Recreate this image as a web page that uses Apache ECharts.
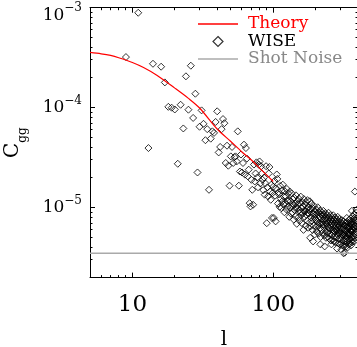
<!DOCTYPE html>
<html><head><meta charset="utf-8">
<script src="https://cdn.jsdelivr.net/npm/echarts@6/dist/echarts.min.js"></script>
<style>html,body{margin:0;padding:0;background:#fff}#c{width:357px;height:347px}</style>
</head><body><div id="c"></div><script>
// Multipole l of each WISE point
const ell = [9,11,13,14,16,17,18,19,20,21,22,23,24,25,26,27,28,29,30,31,32,33,34,35,36,37,38,39,40,
41,42,43,44,45,46,47,48,49,50,51,52,53,54,55,56,57,58,59,60,61,62,63,64,65,66,67,68,69,70,
71,72,73,74,75,76,77,78,79,80,81,82,83,84,85,86,87,88,89,90,91,92,93,94,95,96,97,98,99,
100,101,102,103,104,105,106,107,108,109,110,111,112,113,114,115,116,117,118,119,
120,121,122,123,124,125,126,127,128,129,130,131,132,133,134,135,136,137,138,139,
140,141,142,143,144,145,146,147,148,149,150,151,152,153,154,155,156,157,158,159,
160,161,162,163,164,165,166,167,168,169,170,171,172,173,174,175,176,177,178,179,
180,181,182,183,184,185,186,187,188,189,190,191,192,193,194,195,196,197,198,199,
200,201,202,203,204,205,206,207,208,209,210,211,212,213,214,215,216,217,218,219,
220,221,222,223,224,225,226,227,228,229,230,231,232,233,234,235,236,237,238,239,
240,241,242,243,244,245,246,247,248,249,250,251,252,253,254,255,256,257,258,259,
260,261,262,263,264,265,266,267,268,269,270,271,272,273,274,275,276,277,278,279,
280,281,282,283,284,285,286,287,288,289,290,291,292,293,294,295,296,297,298,299,
300,301,302,303,304,305,306,307,308,309,310,311,312,313,314,315,316,317,318,319,
320,321,322,323,324,325,326,327,328,329,330,331,332,333,334,335,336,337,338,339,
340,341,342,343,344,345,346,347,348,349,350,351,352,353,354,355,356,357,358,359,
360,361,362,363,364,365,366,367,368,369,370,371,372,373,374,375,376,377,378,379,
380,381,382,383,384,385,386,387,388,389,390];
// WISE C_gg, in units of 1e-6
const cggMicro = [321,890,39.5,275,257,179,102,100,96,27.5,107,62,206,95.5,263,79,138,22.5,64.5,94,69,47.3,61,15.1,49,58,56,72,92,
35.7,40.5,61,77,70,28,41.7,26.3,16.6,32.6,40.5,28,32,32.6,29,58,16.6,23,34,22.5,28,42.7,21.4,39.5,31,20.6,24,11.1,10.3,19,
15.1,10.7,27,18.3,22,28.4,20,16,26.9,29,17.5,25.9,22,19,15,20,13.5,17.5,26,7.0,16,13,22,25.5,14.5,12,17,7.9,14,
16.2,7.9,18.5,13.2,7.3,15.6,21.5,19.4,11.0,14.3,13.6,10.2,16.5,12.4,9.9,14.8,11.6,17.0,10.8,12.9,
9.0,14.6,11.1,13.0,9.6,15.4,11.7,10.2,13.9,11.8,8.1,14.5,10.0,11.6,8.7,13.9,10.4,9.0,12.2,10.7,
7.6,12.6,9.5,11.0,8.2,13.3,10.1,6.9,11.6,9.8,10.9,8.0,12.3,9.4,7.4,11.1,9.0,12.9,8.4,9.9,
7.0,11.3,8.8,10.3,6.0,12.2,9.3,8.1,10.7,9.2,6.6,11.4,8.5,9.8,7.4,11.9,8.9,6.3,10.2,8.7,
9.5,7.1,11.6,5.0,6.5,9.8,8.0,10.9,7.4,8.8,6.0,9.9,4.6,8.6,6.6,10.4,7.9,5.4,9.1,7.7,
8.5,6.4,9.6,7.4,5.8,8.8,7.2,10.1,6.7,7.9,5.5,9.0,7.0,8.2,6.2,9.4,4.3,5.1,8.6,6.9,
7.8,6.0,8.9,7.1,5.6,8.3,6.8,9.3,6.4,7.5,5.3,8.5,4.1,7.8,5.9,8.8,7.0,5.0,8.0,6.9,
7.4,5.6,8.4,6.5,5.1,7.7,6.3,8.9,5.9,7.0,4.9,8.0,6.2,7.3,5.5,8.4,6.6,4.7,7.6,4.3,
6.9,5.3,7.9,6.1,4.8,7.3,5.9,8.4,5.6,6.7,4.6,7.6,5.8,6.9,5.2,8.0,6.3,4.5,7.2,6.0,
6.6,5.0,7.6,5.9,3.9,6.9,5.5,8.1,5.3,6.4,4.4,7.3,5.6,6.6,4.9,7.7,6.0,4.3,6.9,5.7,
6.3,4.8,7.2,5.6,4.4,3.8,5.4,7.5,5.1,6.1,4.2,6.9,5.3,6.3,4.7,7.3,3.5,4.1,6.6,5.5,
6.0,4.6,3.55,5.4,4.3,6.6,5.2,7.1,4.9,5.9,4.1,6.7,5.1,7.9,4.6,7.2,5.6,4.0,6.4,5.4,
6.2,4.7,7.0,5.5,4.3,6.6,5.3,7.6,4.9,5.9,4.4,6.9,5.4,6.5,4.6,7.8,5.9,4.2,7.1,5.8,
6.8,5.0,9.3,5.7,4.5,7.3,6.1,8.2,5.3,6.4,4.8,7.7,5.9,6.9,5.1,8.6,6.4,4.6,7.5,6.2,
14.5,5.5,8.0,6.6,5.0,7.1,5.8,8.9,6.0,7.4,9.5];
// Theory curve
const theoryL = [5,6,7,8,10,12,15,20,25,30,40,50,60,70,80,90,100];
const theoryC = [3.57e-4,3.46e-4,3.33e-4,3.16e-4,2.83e-4,2.52e-4,2.10e-4,1.57e-4,1.24e-4,9.93e-5,6.12e-5,4.59e-5,3.61e-5,3.0e-5,2.49e-5,2.12e-5,1.83e-5];
// Shot noise level
const shotL = [5, 400];
const shotC = [3.5e-6, 3.5e-6];
// Axes
const xRange = [5, 400];
const yRange = [2e-6, 1e-3];
const xTickVals = [10, 100];
const xTickLabels = ['10', '100'];
const yTickVals = [1e-5, 1e-4, 1e-3];
const yTickExps = ['\u22125', '\u22124', '\u22123'];
const xMinorTicks = [6,7,8,9,20,30,40,50,60,70,80,90,200,300];
const yMinorTicks = [3e-6,4e-6,5e-6,6e-6,7e-6,8e-6,9e-6,2e-5,3e-5,4e-5,5e-5,6e-5,7e-5,8e-5,9e-5,2e-4,3e-4,4e-4,5e-4,6e-4,7e-4,8e-4,9e-4];

const FONT = 'DejaVu Serif';
function findIdx(arr, v){ return arr.findIndex(t => Math.abs(t - v) / t < 1e-6); }

const chart = echarts.init(document.getElementById('c'), null, {renderer:'canvas'});
const minorData = xMinorTicks.map(v => [v, yRange[0], 0]).concat(yMinorTicks.map(v => [xRange[0], v, 1]));
const crisp = v => Math.round(v - 0.5) + 0.5;

const baseX = {type:'log', logBase:10, min:xRange[0], max:xRange[1],
  axisLine:{lineStyle:{color:'#000', width:1}},
  axisTick:{inside:true, length:5, lineStyle:{color:'#000', width:1}},
  splitLine:{show:false}};
const baseY = {type:'log', logBase:10, min:yRange[0], max:yRange[1],
  axisLine:{lineStyle:{color:'#000', width:1}},
  axisTick:{inside:true, length:5, lineStyle:{color:'#000', width:1}},
  splitLine:{show:false}};

const lineIcon = 'path://M0,0H40V1.4H0Z';
const diamondIcon = 'path://M5,0L10,5L5,10L0,5Z';

chart.setOption({
  animation:false,
  backgroundColor:'#fff',
  grid:{left:90, top:7.7, width:268, height:269.9, containLabel:false, outerBoundsMode:'none'},
  legend:{orient:'vertical', left:198, top:15.5, padding:0, itemWidth:40, itemHeight:10, itemGap:0.5,
    selectedMode:false, symbolKeepAspect:true,
    textStyle:{fontFamily:FONT, fontSize:17, lineHeight:15, padding:[0,0,0,5]},
    data:[{name:'Theory', icon:lineIcon, itemStyle:{color:'#ff0000', borderWidth:0}, textStyle:{color:'#ff0000'}},
          {name:'WISE', icon:diamondIcon, itemStyle:{color:'rgba(0,0,0,0)', borderColor:'#000', borderWidth:1.2}, textStyle:{color:'#000'}},
          {name:'Shot Noise', icon:lineIcon, itemStyle:{color:'#aaa', borderWidth:0}, textStyle:{color:'#888'}}]},
  xAxis:[
    Object.assign({}, baseX, {position:'bottom',
      axisLabel:{fontFamily:FONT, fontSize:23, color:'#000', margin:16,
        formatter: v => { const i = findIdx(xTickVals, v); return i >= 0 ? xTickLabels[i] : ''; }},
      name:'l', nameLocation:'middle', nameGap:52,
      nameTextStyle:{fontFamily:FONT, fontSize:20, color:'#000'}}),
    Object.assign({}, baseX, {position:'top', axisLabel:{show:false}})
  ],
  yAxis:[
    Object.assign({}, baseY, {position:'left',
      axisLabel:{margin:8, color:'#000',
        formatter: v => { const i = findIdx(yTickVals, v); if (i < 0) return '';
          return i === yTickVals.length - 1 ? '{bt|10}{et|' + yTickExps[i] + '}' : '{b|10}{e|' + yTickExps[i] + '}'; },
        rich:{
          b:{fontFamily:FONT, fontSize:17, color:'#000'},
          e:{fontFamily:FONT, fontSize:12, color:'#000', padding:[0,0,14,0]},
          bt:{fontFamily:FONT, fontSize:17, color:'#000', padding:[15,0,0,0]},
          et:{fontFamily:FONT, fontSize:12, color:'#000'}
        }},
      name:'{c|C}{s|gg}', nameLocation:'middle', nameGap:61, nameRotate:90,
      nameTextStyle:{rich:{
        c:{fontFamily:FONT, fontSize:20, color:'#000'},
        s:{fontFamily:FONT, fontSize:12, color:'#000', padding:[20,0,0,0]}}}}),
    Object.assign({}, baseY, {position:'right', axisLabel:{show:false}})
  ],
  series:[
    {type:'scatter', name:'WISE', xAxisIndex:0, yAxisIndex:0,
      data: ell.map((l, i) => [l, cggMicro[i] * 1e-6]),
      symbol:'diamond', symbolSize:7,
      itemStyle:{color:'rgba(0,0,0,0)', borderColor:'#000', borderWidth:1}, z:2},
    {type:'line', name:'Theory', xAxisIndex:0, yAxisIndex:0,
      data: theoryL.map((l, i) => [l, theoryC[i]]),
      symbol:'none', smooth:0.3, lineStyle:{color:'#ff0000', width:1.2}, itemStyle:{color:'#ff0000'}, z:3},
    {type:'line', name:'Shot Noise', xAxisIndex:0, yAxisIndex:0,
      data: shotL.map((l, i) => [l, shotC[i]]),
      symbol:'none', lineStyle:{color:'#aaa', width:1.5}, itemStyle:{color:'#aaa'}, z:3},
    {type:'custom', name:'minorTicks', xAxisIndex:0, yAxisIndex:0, silent:true, clip:false, z:5,
      data: minorData, encode:{x:0, y:1},
      renderItem(params, api){
        const st = {stroke:'#000', lineWidth:1};
        if (api.value(2) === 0) {
          const b = api.coord([api.value(0), yRange[0]]);
          const t = api.coord([api.value(0), yRange[1]]);
          const x = crisp(b[0]);
          return {type:'group', children:[
            {type:'line', shape:{x1:x, y1:b[1], x2:x, y2:b[1] - 2.5}, style:st},
            {type:'line', shape:{x1:x, y1:t[1], x2:x, y2:t[1] + 2.5}, style:st}]};
        }
        const l = api.coord([xRange[0], api.value(1)]);
        const r = api.coord([xRange[1], api.value(1)]);
        const y = crisp(l[1]);
        return {type:'group', children:[
          {type:'line', shape:{x1:l[0], y1:y, x2:l[0] + 2.5, y2:y}, style:st},
          {type:'line', shape:{x1:r[0], y1:y, x2:r[0] - 2.5, y2:y}, style:st}]};
      }}
  ]
});
</script></body></html>
